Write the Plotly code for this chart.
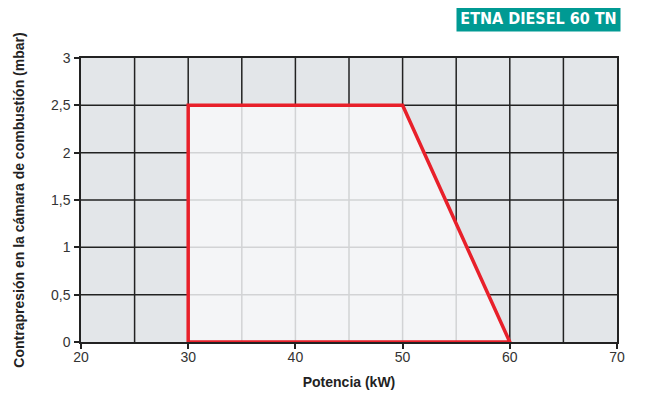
import plotly.graph_objects as go

# Data
poly_x = [30, 30, 50, 60, 30]
poly_y = [0, 2.5, 2.5, 0, 0]
x_ticks = [20, 30, 40, 50, 60, 70]
y_ticks = [0, 0.5, 1, 1.5, 2, 2.5, 3]
y_tick_labels = ["0", "0,5", "1", "1,5", "2", "2,5", "3"]
grid_x = [25, 30, 35, 40, 45, 50, 55, 60, 65]
grid_y = [0.5, 1, 1.5, 2, 2.5]
title_text = "ETNA DIESEL 60 TN"

fig = go.Figure()

# light polygon fill (covers dark grid)
fig.add_trace(go.Scatter(x=poly_x, y=poly_y, fill="toself", fillcolor="#f4f5f7",
                         mode="none", hoverinfo="skip", showlegend=False))

# light grid lines clipped to the polygon
def right_edge_x(y):
    x1, y1, x2, y2 = poly_x[2], poly_y[2], poly_x[3], poly_y[3]
    return x1 + (y - y1) * (x2 - x1) / (y2 - y1)

def top_y(x):
    x1, y1, x2, y2 = poly_x[2], poly_y[2], poly_x[3], poly_y[3]
    if x <= x1:
        return y1
    return y1 + (x - x1) * (y2 - y1) / (x2 - x1)

lx, ly = [], []
for gx in grid_x:
    if poly_x[0] < gx < poly_x[3]:
        lx += [gx, gx, None]
        ly += [0, top_y(gx), None]
for gy in grid_y:
    if 0 < gy < poly_y[1]:
        lx += [poly_x[0], right_edge_x(gy), None]
        ly += [gy, gy, None]
fig.add_trace(go.Scatter(x=lx, y=ly, mode="lines", line=dict(color="#d2d3d5", width=1.5),
                         hoverinfo="skip", showlegend=False))

# red outline
fig.add_trace(go.Scatter(x=poly_x, y=poly_y, mode="lines",
                         line=dict(color="#e8202a", width=3.5),
                         hoverinfo="skip", showlegend=False))

font_family = "Liberation Sans, Arial, Helvetica, sans-serif"

fig.update_layout(
    width=637, height=388,
    margin=dict(l=73, r=28, t=50, b=54, autoexpand=False),
    paper_bgcolor="white",
    plot_bgcolor="#e3e6e9",
    font=dict(family=font_family, size=14, color="#333333"),
    xaxis=dict(range=[20, 70], tickvals=x_ticks,
               showgrid=False, zeroline=False, automargin=False,
               showline=True, linecolor="#222222", linewidth=1.5, mirror=True,
               ticks="outside", ticklen=5, tickcolor="#222222", tickwidth=1.5,
               ticklabelstandoff=-4,
               title=dict(text="<b>Potencia (kW)</b>", font=dict(size=14, color="#222222"), standoff=14)),
    yaxis=dict(range=[0, 3], tickvals=y_ticks, ticktext=y_tick_labels,
               showgrid=False, zeroline=False, automargin=False,
               showline=True, linecolor="#222222", linewidth=1.5, mirror=True,
               ticks="outside", ticklen=5, tickcolor="#222222", tickwidth=1.5,
               ticklabelstandoff=1,
               title=dict(text="<b>Contrapresión en la cámara de combustión (mbar)</b>",
                          font=dict(size=14, color="#222222"), standoff=23)),
    showlegend=False,
)

# dark grid lines as shapes below traces
for gx in grid_x:
    fig.add_shape(type="line", xref="x", yref="y", x0=gx, x1=gx, y0=0, y1=3,
                  line=dict(color="#222222", width=1.5), layer="below")
for gy in grid_y:
    fig.add_shape(type="line", xref="x", yref="y", x0=20, x1=70, y0=gy, y1=gy,
                  line=dict(color="#222222", width=1.5), layer="below")

fig.add_annotation(xref="paper", yref="paper", x=1.0075, y=1.14,
                   xanchor="right", yanchor="middle",
                   text="<b>" + title_text + "</b>", showarrow=False,
                   bgcolor="#009a93", width=163, height=26, borderpad=0,
                   font=dict(family="Liberation Sans Narrow, Arial Narrow, DejaVu Sans Condensed, sans-serif",
                             size=16, color="white"))

fig.write_html("out.html")
